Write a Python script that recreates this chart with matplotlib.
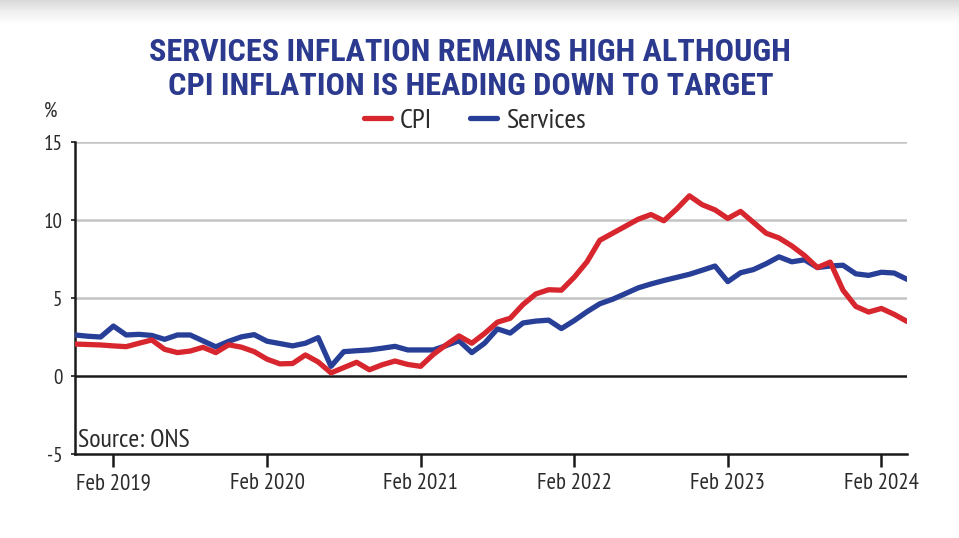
import numpy as np
import pandas as pd
import matplotlib
matplotlib.use("Agg")
import matplotlib.pyplot as plt
from matplotlib import font_manager

# monthly readings, Nov 2018 .. Apr 2024
start_month = "2018-11-01"
cpi = [2.05, 2.02, 1.99, 1.93, 1.88, 2.10, 2.31, 1.71, 1.50, 1.60,
       1.84, 1.50, 2.00, 1.85, 1.56, 1.08, 0.78, 0.80, 1.35, 0.90,
       0.20, 0.54, 0.88, 0.40, 0.72, 0.96, 0.74, 0.62, 1.39, 2.00,
       2.57, 2.10, 2.73, 3.45, 3.70, 4.58, 5.26, 5.53, 5.50, 6.33,
       7.32, 8.70, 9.15, 9.60, 10.05, 10.35, 9.95, 10.70, 11.55, 10.98,
       10.65, 10.10, 10.55, 9.85, 9.15, 8.85, 8.34, 7.72, 6.95, 7.30,
       5.50, 4.46, 4.10, 4.33, 3.95, 3.50]
services = [2.63, 2.55, 2.50, 3.20, 2.63, 2.67, 2.60, 2.35, 2.63, 2.63,
            2.25, 1.87, 2.22, 2.51, 2.65, 2.23, 2.08, 1.93, 2.10, 2.46,
            0.62, 1.56, 1.62, 1.67, 1.78, 1.90, 1.67, 1.67, 1.67, 1.95,
            2.26, 1.50, 2.10, 3.02, 2.75, 3.40, 3.52, 3.58, 3.04, 3.55,
            4.12, 4.63, 4.92, 5.28, 5.65, 5.90, 6.12, 6.32, 6.52, 6.78,
            7.05, 6.05, 6.62, 6.82, 7.20, 7.64, 7.32, 7.45, 6.95, 7.05,
            7.10, 6.55, 6.45, 6.65, 6.60, 6.20]
y_ticks = [-5, 0, 5, 10, 15]

months = pd.date_range(start_month, periods=len(cpi), freq="MS")
x = np.arange(len(months))
tick_pos = [i for i, m in enumerate(months) if m.month == 2]
tick_lab = [m.strftime("Feb %Y") for m in months if m.month == 2]

RED = "#d7262e"
BLUE = "#283f98"
NAVY = "#2b3a8e"
TXT = "#2b2b2b"

installed = {f.name for f in font_manager.fontManager.ttflist}

def pick(prefs):
    for p in prefs:
        if p in installed:
            return p
    return "DejaVu Sans"

head_font = pick(["Roboto Condensed", "Barlow Condensed", "Fira Sans Condensed", "Archivo Narrow",
                  "PT Sans Narrow", "Open Sans Condensed"])
body_font = pick(["PT Sans Narrow", "Roboto Condensed", "Archivo Narrow", "Fira Sans Condensed",
                  "Barlow Semi Condensed", "Open Sans Condensed"])
plt.rcParams["font.family"] = [body_font, "DejaVu Sans"]
plt.rcParams["axes.unicode_minus"] = False

fig = plt.figure(figsize=(9.59, 5.38), dpi=100)
renderer = fig.canvas.get_renderer()
PX = fig.dpi / 72.0

def fit(txt, width_px):
    w = txt.get_window_extent(renderer).width
    txt.set_fontsize(txt.get_fontsize() * width_px / w)

def size_for(s, width_px, **kw):
    t = fig.text(0, 0, s, fontsize=10, **kw)
    w = t.get_window_extent(renderer).width
    t.remove()
    return 10 * width_px / w

# faint grey band along the top edge
band = fig.add_axes([0, 1 - 24 / 538, 1, 24 / 538])
band.imshow(np.linspace(0, 1, 50).reshape(-1, 1), aspect="auto", cmap="Greys_r",
            vmin=-3, vmax=1, extent=[0, 1, 0, 1])
band.axis("off")

ax = fig.add_axes([75 / 959, 1 - 454 / 538, 832 / 959, 312 / 538])

for v in [5, 10, 15]:
    ax.axhline(v, color="#c4c4c4", lw=1.8, zorder=1)
ax.axhline(0, color="#1a1a1a", lw=1.8, zorder=2)

ax.plot(x, cpi, color=RED, lw=3.8, solid_joinstyle="round", solid_capstyle="round", zorder=4, label="CPI")
ax.plot(x, services, color=BLUE, lw=3.8, solid_joinstyle="round", solid_capstyle="round", zorder=3, label="Services")

ax.set_xlim(0, len(x) - 1)
ax.set_ylim(-5, 15)
ax.set_yticks(y_ticks)
ax.set_xticks(tick_pos)
ax.set_xticklabels(tick_lab)

for s in ["top", "right"]:
    ax.spines[s].set_visible(False)
for s in ["left", "bottom"]:
    ax.spines[s].set_color("#1a1a1a")
    ax.spines[s].set_linewidth(1.8)

xfs = size_for("Feb 2019", 75)
yfs = size_for("15", 19)
ax.tick_params(axis="x", length=9, width=1.8, color="#1a1a1a", labelsize=xfs, labelcolor=TXT, pad=5)
ax.tick_params(axis="y", length=3, width=1.2, color="#1a1a1a", labelsize=yfs, labelcolor=TXT, pad=6)

src = ax.text(0.004, 0.008, "Source: ONS", transform=ax.transAxes, fontsize=14, color=TXT, ha="left", va="bottom")
fit(src, 112)
pct = fig.text(44 / 959, 1 - 111 / 538, "%", fontsize=yfs, color=TXT, ha="left", va="center")

t1 = fig.text(470 / 959, 1 - 52 / 538, "SERVICES INFLATION REMAINS HIGH ALTHOUGH", fontsize=22,
              fontweight="bold", family=[head_font, "DejaVu Sans"], color=NAVY, ha="center", va="center")
fit(t1, 640)
t2 = fig.text(471 / 959, 1 - 86 / 538, "CPI INFLATION IS HEADING DOWN TO TARGET", fontsize=t1.get_fontsize(),
              fontweight="bold", family=[head_font, "DejaVu Sans"], color=NAVY, ha="center", va="center")

lfs = size_for("Services", 80)
em = lfs * PX
fig.legend(loc="center", bbox_to_anchor=(475 / 959, 1 - 121 / 538), ncol=2, frameon=False, fontsize=lfs,
           handlelength=27 / em, handletextpad=9 / em, columnspacing=38 / em, labelcolor=TXT,
           borderpad=0, borderaxespad=0)

fig.savefig("out.png", dpi=100)
